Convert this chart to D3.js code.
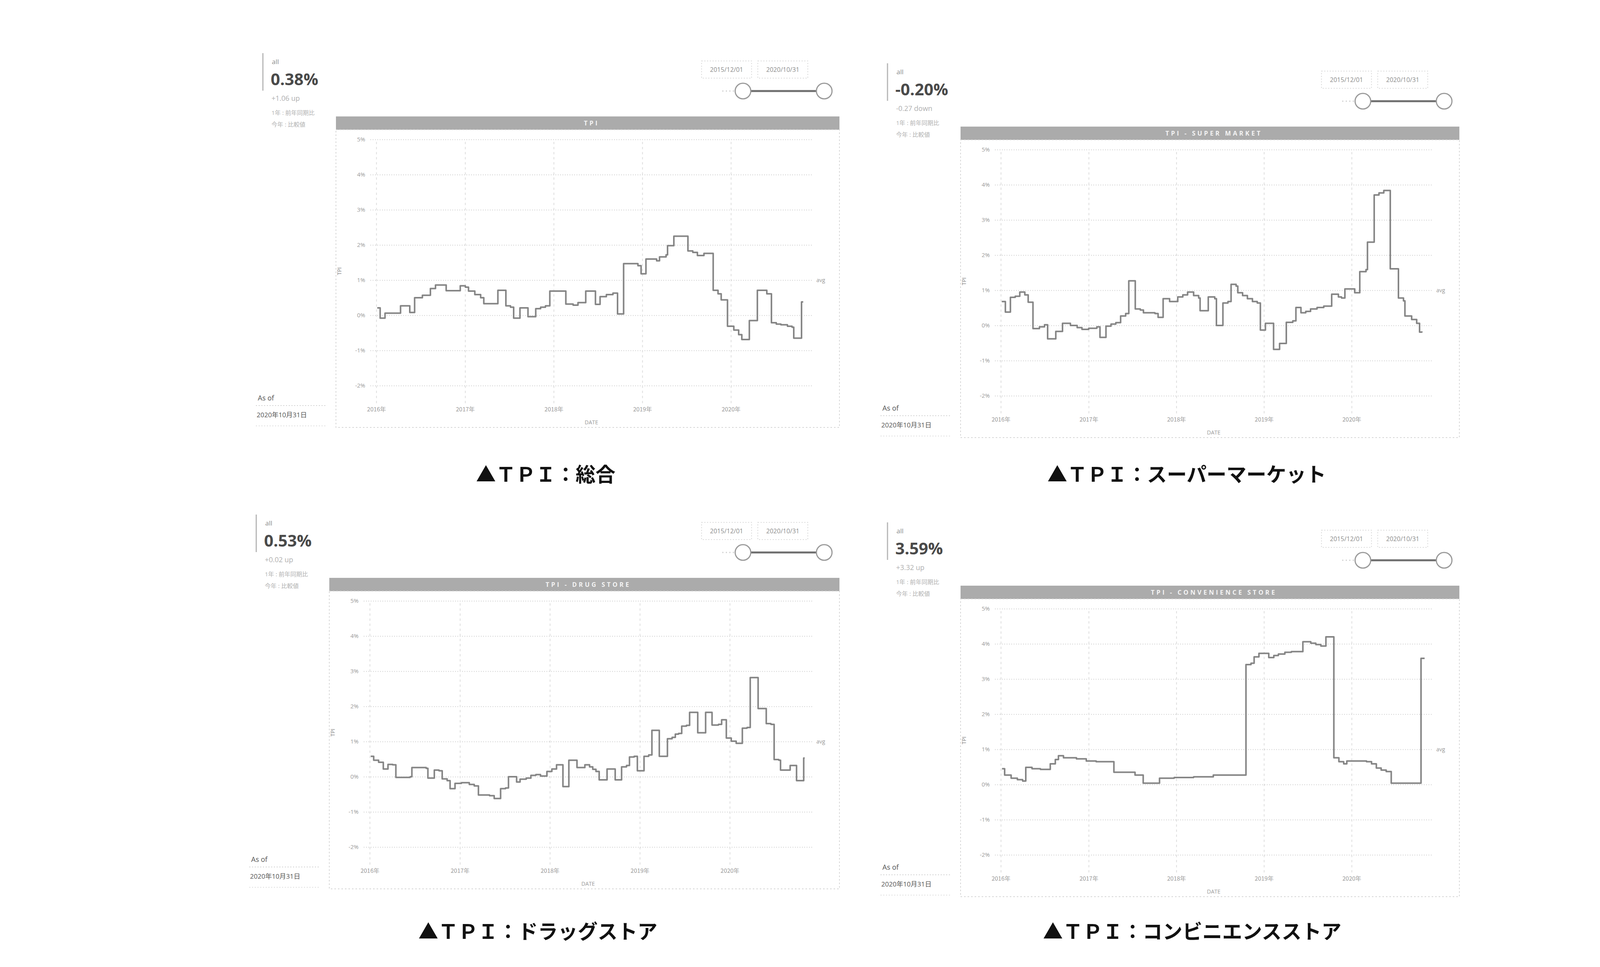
<!DOCTYPE html>
<html>
<head>
<meta charset="utf-8">
<script src="https://cdn.jsdelivr.net/npm/d3@7"></script>
<style>
html, body { margin: 0; padding: 0; background: #fff; }
svg { display: block; }
text { font-family: "Open Sans", "Noto Sans CJK JP", sans-serif; }
.caption { font-family: "Noto Sans CJK JP", sans-serif; }
</style>
</head>
<body>
<script>
/*=====================================================================
 data
======================================================================*/

// y axis ticks (%) and year labels, shared by all four charts
var yTicks = [5, 4, 3, 2, 1, 0, -1, -2];
var yearLabels = ["2016年", "2017年", "2018年", "2019年", "2020年"];
var rangeStart = "2015/12/01";
var rangeEnd = "2020/10/31";
var asOfLabel = "2020年10月31日";

// chart titles, captions and headline numbers
var titles = ["TPI", "TPI - SUPER MARKET", "TPI - DRUG STORE", "TPI - CONVENIENCE STORE"];
var captions = ["▲ＴＰＩ：総合", "▲ＴＰＩ：スーパーマーケット", "▲ＴＰＩ：ドラッグストア", "▲ＴＰＩ：コンビニエンスストア"];
var kpiValues = ["0.38%", "-0.20%", "0.53%", "3.59%"];
var kpiChanges = ["+1.06 up", "-0.27 down", "+0.02 up", "+3.32 up"];

// TPI : total
var totalDates = ["2016-01-05","2016-01-17","2016-02-06","2016-04-10","2016-05-18","2016-06-07","2016-07-09","2016-08-11",
    "2016-09-01","2016-10-15","2016-12-12","2017-01-02","2017-01-15","2017-02-10","2017-03-06","2017-03-19","2017-05-16",
    "2017-06-18","2017-07-07","2017-07-20","2017-08-15","2017-09-17","2017-10-19","2017-11-08","2017-11-28","2017-12-16",
    "2018-02-20","2018-03-22","2018-04-11","2018-05-13","2018-06-22","2018-07-11","2018-08-06","2018-09-02","2018-09-21",
    "2018-10-16","2018-12-14","2018-12-27","2019-01-16","2019-03-01","2019-03-13","2019-04-09","2019-04-15","2019-05-11",
    "2019-07-08","2019-07-28","2019-08-16","2019-09-12","2019-10-20","2019-11-09","2019-11-22","2019-12-18","2020-01-13",
    "2020-02-02","2020-02-15","2020-03-17","2020-04-19","2020-05-28","2020-06-16","2020-07-06","2020-07-25","2020-08-21",
    "2020-09-09","2020-09-16","2020-10-18","2020-10-25"];
var totalValues = [0.21,-0.08,0.06,0.27,0.08,0.50,0.57,0.76,
    0.86,0.70,0.84,0.80,0.69,0.59,0.50,0.33,0.71,
    0.27,0.23,-0.08,0.21,-0.04,0.19,0.23,0.27,0.69,
    0.32,0.29,0.36,0.69,0.31,0.53,0.59,0.63,0.04,
    1.47,1.41,1.18,1.60,1.55,1.66,1.72,1.98,2.25,
    1.83,1.79,1.70,1.76,0.71,0.61,0.44,-0.31,-0.42,
    -0.55,-0.69,-0.15,0.71,0.61,-0.21,-0.25,-0.27,-0.31,
    -0.34,-0.65,0.38,0.38];

// TPI : super market
var superDates = ["2016-01-05","2016-01-20","2016-02-10","2016-03-01","2016-03-20","2016-04-10","2016-04-24","2016-05-14",
    "2016-06-10","2016-07-01","2016-07-14","2016-08-17","2016-09-14","2016-10-17","2016-11-14","2016-12-04","2017-01-01",
    "2017-02-04","2017-02-17","2017-03-14","2017-04-04","2017-04-24","2017-05-14","2017-06-04","2017-06-17","2017-07-14",
    "2017-08-04","2017-08-17","2017-10-04","2017-10-17","2017-11-07","2017-12-04","2018-01-07","2018-01-28","2018-02-17",
    "2018-03-14","2018-04-04","2018-04-10","2018-05-14","2018-06-10","2018-06-17","2018-07-14","2018-08-04","2018-08-17",
    "2018-09-07","2018-09-14","2018-10-04","2018-10-24","2018-11-14","2018-12-04","2018-12-17","2019-01-07","2019-02-10",
    "2019-03-07","2019-04-04","2019-05-01","2019-05-14","2019-06-04","2019-06-24","2019-07-14","2019-08-10","2019-09-07",
    "2019-10-10","2019-11-07","2019-11-20","2019-12-04","2020-01-14","2020-02-04","2020-03-01","2020-03-07","2020-04-04",
    "2020-04-24","2020-05-14","2020-06-10","2020-07-14","2020-08-04","2020-08-10","2020-09-07","2020-09-28","2020-10-10",
    "2020-10-20"];
var superValues = [0.68,0.38,0.80,0.83,0.95,0.87,0.66,-0.09,
    -0.04,0.02,-0.38,-0.17,0.06,0.00,-0.06,-0.11,-0.08,
    -0.04,-0.34,-0.02,0.04,0.08,0.27,0.34,1.27,0.47,
    0.44,0.36,0.34,0.23,0.76,0.68,0.81,0.87,0.95,
    0.85,0.78,0.42,0.81,0.76,0.00,0.64,0.68,1.17,
    1.12,0.93,0.85,0.76,0.68,0.64,-0.13,0.06,-0.68,
    -0.51,0.09,0.13,0.51,0.36,0.40,0.47,0.51,0.55,
    0.89,0.81,0.78,1.04,0.93,1.53,1.59,2.37,3.71,
    3.77,3.84,1.61,0.78,0.70,0.27,0.17,0.06,-0.19,
    -0.20];

// TPI : drug store
var drugDates = ["2016-01-05","2016-01-17","2016-02-06","2016-02-25","2016-03-15","2016-04-03","2016-04-16","2016-06-13",
    "2016-06-20","2016-08-17","2016-08-24","2016-09-19","2016-10-08","2016-10-21","2016-11-10","2016-11-22","2016-12-12",
    "2017-01-07","2017-02-08","2017-02-28","2017-03-17","2017-05-01","2017-05-20","2017-06-15","2017-07-05","2017-07-17",
    "2017-08-19","2017-09-02","2017-09-27","2017-10-16","2017-11-05","2017-11-24","2017-12-20","2018-01-09","2018-01-28",
    "2018-02-23","2018-03-19","2018-04-21","2018-05-23","2018-06-11","2018-06-24","2018-07-07","2018-07-20","2018-08-21",
    "2018-09-23","2018-10-19","2018-11-08","2018-11-20","2018-12-09","2018-12-22","2019-01-18","2019-02-06","2019-02-19",
    "2019-03-21","2019-04-23","2019-05-12","2019-05-25","2019-06-07","2019-06-20","2019-07-09","2019-07-22","2019-08-24",
    "2019-09-25","2019-10-21","2019-11-16","2019-11-29","2019-12-18","2020-01-07","2020-01-27","2020-02-21","2020-03-11",
    "2020-03-24","2020-04-25","2020-05-28","2020-06-16","2020-06-29","2020-07-18","2020-07-25","2020-09-02","2020-09-28",
    "2020-10-27","2020-10-31"];
var drugValues = [0.58,0.47,0.41,0.22,0.35,0.34,-0.02,0.00,
    0.26,0.24,-0.04,0.19,0.17,-0.06,-0.11,-0.34,-0.19,
    -0.17,-0.22,-0.26,-0.52,-0.54,-0.62,-0.34,-0.32,0.00,
    -0.15,-0.07,-0.04,0.04,0.06,0.02,0.15,0.22,0.34,
    -0.28,0.47,0.26,0.34,0.28,0.21,0.15,-0.09,0.22,
    -0.09,0.28,0.32,0.56,0.58,0.17,0.58,0.62,1.32,
    0.58,1.08,1.12,1.21,1.23,1.44,1.46,1.83,1.25,
    1.83,1.47,1.49,1.62,1.10,1.01,0.95,1.38,1.40,
    2.82,1.94,1.51,1.49,0.49,0.47,0.19,0.32,-0.11,
    0.53,0.53];

// TPI : convenience store
var cvsDates = ["2016-01-06","2016-01-17","2016-02-13","2016-03-10","2016-04-01","2016-04-14","2016-05-10","2016-06-14",
    "2016-07-25","2016-08-15","2016-08-28","2016-09-18","2016-11-11","2016-12-22","2017-02-01","2017-04-16","2017-07-13",
    "2017-08-16","2017-10-23","2017-12-23","2018-03-14","2018-06-04","2018-10-18","2018-11-08","2018-11-21","2018-12-11",
    "2019-01-21","2019-02-11","2019-03-02","2019-03-29","2019-04-25","2019-06-12","2019-07-15","2019-08-05","2019-08-26",
    "2019-09-16","2019-10-19","2019-11-09","2019-11-29","2019-12-12","2020-03-03","2020-03-24","2020-04-13","2020-05-03",
    "2020-05-24","2020-06-14","2020-10-16","2020-10-31"];
var cvsValues = [0.45,0.27,0.18,0.14,0.10,0.49,0.45,0.43,
    0.59,0.71,0.82,0.76,0.73,0.67,0.65,0.35,0.27,
    0.04,0.18,0.20,0.22,0.27,3.41,3.45,3.63,3.73,
    3.61,3.67,3.71,3.76,3.78,4.06,4.02,3.98,3.94,
    4.20,0.76,0.65,0.59,0.67,0.65,0.59,0.47,0.41,
    0.37,0.04,3.59,3.59];

/*=====================================================================
 layout : title bar top-left corner and width of each panel
======================================================================*/
var panelLayout = [
    { ox: 860,  oy: 298,  w: 1289, cx: 1397, cy: 1215 },
    { ox: 2459, oy: 324,  w: 1277, cx: 3038, cy: 1215 },
    { ox: 843,  oy: 1479, w: 1306, cx: 1377, cy: 2385 },
    { ox: 2459, oy: 1499, w: 1277, cx: 3052, cy: 2385 }
];
var seriesDates = [totalDates, superDates, drugDates, cvsDates];
var seriesValues = [totalValues, superValues, drugValues, cvsValues];

var parseDate = d3.timeParse("%Y-%m-%d");
var parseSlash = d3.timeParse("%Y/%m/%d");

var svg = d3.select("body").append("svg")
    .attr("width", 4400)
    .attr("height", 2475);

svg.append("rect").attr("width", 4400).attr("height", 2475).attr("fill", "#fff");

panelLayout.forEach(function (p, i) {
    drawPanel(p, i);
});

/*=====================================================================
 drawPanel()
======================================================================*/
function drawPanel(p, i) {
    var g = svg.append("g");
    var ox = p.ox, oy = p.oy, w = p.w;

    /* KPI block */
    g.append("line")
        .attr("x1", ox - 187).attr("x2", ox - 187)
        .attr("y1", oy - 162).attr("y2", oy - 66)
        .attr("stroke", "#b5b5b5").attr("stroke-width", 3);
    g.append("text").attr("x", ox - 164).attr("y", oy - 134)
        .attr("font-size", 17).attr("fill", "#8a8a8a").text("all");
    g.append("text").attr("x", ox - 167).attr("y", oy - 80)
        .attr("font-size", 42).attr("font-weight", 700).attr("fill", "#4a4a4a")
        .text(kpiValues[i]);
    g.append("text").attr("x", ox - 165).attr("y", oy - 40)
        .attr("font-size", 18).attr("fill", "#b0b0b0").text(kpiChanges[i]);
    g.append("text").attr("x", ox - 165).attr("y", oy - 4)
        .attr("font-size", 15).attr("fill", "#b0b0b0").text("1年 : 前年同期比");
    g.append("text").attr("x", ox - 165).attr("y", oy + 26)
        .attr("font-size", 15).attr("fill", "#b0b0b0").text("今年 : 比較値");

    /* date range boxes and slider */
    var boxes = [rangeStart, rangeEnd];
    boxes.forEach(function (t, k) {
        var bx = ox + w - 289 + k * 144;
        g.append("rect")
            .attr("x", bx - 64).attr("y", oy - 142)
            .attr("width", 128).attr("height", 44)
            .attr("fill", "none").attr("stroke", "#dcdcdc")
            .attr("stroke-width", 2).attr("stroke-dasharray", "3,4");
        g.append("text").attr("x", bx).attr("y", oy - 114)
            .attr("text-anchor", "middle").attr("font-size", 16)
            .attr("fill", "#8c8c8c").text(t);
    });

    var slider = d3.scaleTime()
        .domain([parseSlash(rangeStart), parseSlash(rangeEnd)])
        .range([ox + w - 247, ox + w - 39]);
    var sy = oy - 65;
    g.append("line")
        .attr("x1", ox + w - 300).attr("x2", slider.range()[0] - 22)
        .attr("y1", sy).attr("y2", sy)
        .attr("stroke", "#d0d0d0").attr("stroke-width", 3).attr("stroke-dasharray", "3,6");
    g.append("line")
        .attr("x1", slider.range()[0]).attr("x2", slider.range()[1])
        .attr("y1", sy).attr("y2", sy)
        .attr("stroke", "#6e6e6e").attr("stroke-width", 5);
    g.selectAll(".knob").data(boxes).enter().append("circle")
        .attr("cx", function (d) { return slider(parseSlash(d)); })
        .attr("cy", sy).attr("r", 20)
        .attr("fill", "#fff").attr("stroke", "#9a9a9a").attr("stroke-width", 3);

    /* title bar and frame */
    g.append("rect").attr("x", ox).attr("y", oy).attr("width", w).attr("height", 34)
        .attr("fill", "#ababab");
    g.append("text").attr("x", ox + w / 2 + 10).attr("y", oy + 23)
        .attr("text-anchor", "middle").attr("font-size", 16).attr("font-weight", 700)
        .attr("letter-spacing", 5).attr("fill", "#f4f4f4").text(titles[i]);
    g.append("rect").attr("x", ox).attr("y", oy + 34).attr("width", w).attr("height", 762)
        .attr("fill", "none").attr("stroke", "#d6d6d6")
        .attr("stroke-width", 2).attr("stroke-dasharray", "4,5");

    /* left "as of" block */
    g.append("text").attr("x", ox - 200).attr("y", oy + 727)
        .attr("font-size", 18).attr("fill", "#555").text("As of");
    g.append("line").attr("x1", ox - 205).attr("x2", ox - 25)
        .attr("y1", oy + 740).attr("y2", oy + 740)
        .attr("stroke", "#d4d4d4").attr("stroke-width", 2).attr("stroke-dasharray", "3,4");
    g.append("text").attr("x", ox - 203).attr("y", oy + 770)
        .attr("font-size", 17).attr("fill", "#555").text(asOfLabel);
    g.append("line").attr("x1", ox - 205).attr("x2", ox - 25)
        .attr("y1", oy + 792).attr("y2", oy + 792)
        .attr("stroke", "#e0e0e0").attr("stroke-width", 2).attr("stroke-dasharray", "3,4");

    /* scales */
    var x = d3.scaleTime()
        .domain([parseSlash(rangeStart), parseSlash(rangeEnd)])
        .range([ox + 84, ox + w - 89]);
    var y = d3.scaleLinear()
        .domain([-2, 5])
        .range([oy + 689, oy + 59]);

    var gridLeft = ox + 88, gridRight = ox + w - 69;

    /* y axis with horizontal gridlines */
    var yAxis = g.append("g")
        .attr("transform", "translate(" + gridLeft + ",0)")
        .call(d3.axisLeft(y)
            .tickValues(yTicks)
            .tickSize(-(gridRight - gridLeft))
            .tickPadding(13)
            .tickFormat(function (d) { return d + "%"; }));
    yAxis.select(".domain").remove();
    yAxis.selectAll("line")
        .attr("stroke", "#cdcdcd").attr("stroke-width", 2).attr("stroke-dasharray", "2,4");
    yAxis.selectAll("text")
        .attr("font-size", 15).attr("fill", "#9a9a9a")
        .style("font-family", "'Open Sans', sans-serif");

    /* x axis with vertical year gridlines */
    var years = d3.timeYear.range(parseDate("2016-01-01"), parseDate("2020-01-02"));
    var xAxis = g.append("g")
        .attr("transform", "translate(0," + (oy + 734) + ")")
        .call(d3.axisBottom(x)
            .tickValues(years)
            .tickSize(-675)
            .tickPadding(10)
            .tickFormat(function (d, k) { return yearLabels[k]; }));
    xAxis.select(".domain").remove();
    xAxis.selectAll("line")
        .attr("stroke", "#dedede").attr("stroke-width", 2).attr("stroke-dasharray", "6,7");
    xAxis.selectAll("text")
        .attr("font-size", 15).attr("fill", "#9a9a9a")
        .style("font-family", "'Noto Sans CJK JP', sans-serif");

    /* axis titles */
    g.append("text")
        .attr("transform", "translate(" + (ox + 14) + "," + (oy + 396) + ") rotate(-90)")
        .attr("text-anchor", "middle").attr("font-size", 14).attr("fill", "#888")
        .text("TPI");
    g.append("text")
        .attr("x", (gridLeft + gridRight) / 2).attr("y", oy + 788)
        .attr("text-anchor", "middle").attr("font-size", 14).attr("fill", "#999")
        .text("DATE");
    g.append("text")
        .attr("x", gridRight + 10).attr("y", y(1)).attr("dy", "0.35em")
        .attr("font-size", 14).attr("fill", "#999")
        .text("avg");

    /* step line */
    var pts = seriesDates[i].map(function (d, k) {
        return { date: parseDate(d), value: seriesValues[i][k] };
    });
    var line = d3.line()
        .curve(d3.curveStepAfter)
        .x(function (d) { return x(d.date); })
        .y(function (d) { return y(d.value); });
    g.append("path")
        .datum(pts)
        .attr("d", line)
        .attr("fill", "none")
        .attr("stroke", "#858585")
        .attr("stroke-width", 4)
        .attr("stroke-linejoin", "round");

    /* caption below the panel */
    svg.append("text")
        .attr("class", "caption")
        .attr("x", p.cx).attr("y", p.cy)
        .attr("dy", "0.36em")
        .attr("text-anchor", "middle")
        .attr("font-size", 51).attr("font-weight", 700).attr("fill", "#111")
        .text(captions[i]);
}
</script>
</body>
</html>
